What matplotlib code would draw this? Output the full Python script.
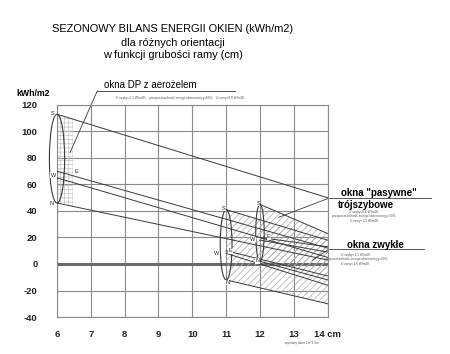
"""Sezonowy bilans energii okien - odtworzenie wykresu."""

import matplotlib
matplotlib.use("Agg")
import matplotlib.pyplot as plt
from matplotlib.patches import Ellipse

plt.rcParams.update({
    "font.family": ["Liberation Sans", "DejaVu Sans"],
    "hatch.linewidth": 0.5,
    "axes.unicode_minus": False,
})

# dane (kWh/m2) - wartosci
x_ticks = [6, 7, 8, 9, 10, 11, 12, 13, 14]
x_tick_labels = ["6", "7", "8", "9", "10", "11", "12", "13", "14 cm"]
y_ticks = [-40, -20, 0, 20, 40, 60, 80, 100, 120]

# okna DP z aerozelem: od 6 cm do 14 cm
dp_x = [6, 14]
dp_S = [113, 50]
dp_E = [70, 12]
dp_W = [65, 5]
dp_N = [46, 3]

# okna pasywne trojszybowe: od 12 cm
pas_x = [12, 14]
pas_S = [45, 23]
pas_E = [20, 13]
pas_W = [18, 9]
pas_N = [2, -12]

# okna zwykle: od 11 cm
zw_x = [11, 14]
zw_S = [41, 18]
zw_E = [10, -9]
zw_W = [8, -16]
zw_N = [-12, -30]

_LINE = "#3a3a3a"
_GRID = "#8a8a8a"
_HATCH = "#ababab"

fig = plt.figure(figsize=(4.5, 3.54), dpi=100)
fig.patch.set_facecolor("white")
ax = fig.add_axes([0.1267, 0.1045, 0.6013, 0.599])

ax.set_xlim(6, 14)
ax.set_ylim(-40, 120)
ax.set_xticks(x_ticks)
ax.set_xticklabels(x_tick_labels)
ax.set_yticks(y_ticks)
ax.tick_params(length=0, labelsize=6.8, colors="#222222")
ax.tick_params(axis="y", pad=14)
ax.tick_params(axis="x", pad=9)
for lab in ax.get_xticklabels() + ax.get_yticklabels():
    lab.set_fontweight("bold")
for sp in ax.spines.values():
    sp.set_color(_GRID)
    sp.set_linewidth(0.8)
ax.grid(True, color=_GRID, linewidth=0.8)
ax.set_axisbelow(True)

# gruba linia zera
ax.axhline(0, color="#6a6a6a", linewidth=2.2, zorder=2)


def interp(xs, ys, xv):
    return ys[0] + (ys[1] - ys[0]) * (xv - xs[0]) / (xs[1] - xs[0])


# obszary kreskowane
dp_xf = [6, 6.47]
ax.fill_between(dp_xf, [interp(dp_x, dp_N, v) for v in dp_xf],
                [interp(dp_x, dp_S, v) for v in dp_xf],
                facecolor="none", edgecolor="#c4c4c4", hatch="++++",
                linewidth=0, zorder=2)
ax.fill_between(zw_x, zw_N, zw_S, facecolor="none", edgecolor=_HATCH,
                hatch="/////", linewidth=0, zorder=2)
ax.fill_between(pas_x, pas_N, pas_S, facecolor="none", edgecolor=_HATCH,
                hatch="/////", linewidth=0, zorder=2)

# linie bilansu
for xs, series in ((dp_x, (dp_S, dp_E, dp_W, dp_N)),
                   (pas_x, (pas_S, pas_E, pas_W, pas_N)),
                   (zw_x, (zw_S, zw_E, zw_W, zw_N))):
    for ys in series:
        ax.plot(xs, ys, color=_LINE, linewidth=0.7, zorder=3)

# elipsy grupujace
for xs, top, bot, w in ((dp_x, dp_S, dp_N, 0.45),
                        (zw_x, zw_S, zw_N, 0.35),
                        (pas_x, pas_S, pas_N, 0.25)):
    ax.add_patch(Ellipse((xs[0], (top[0] + bot[0]) / 2), w, top[0] - bot[0],
                         facecolor="none", edgecolor=_LINE, linewidth=0.8,
                         zorder=4, clip_on=False))

# oznaczenia stron swiata
marks = [
    (5.87, 113.5, "S"), (5.89, 67, "W"), (6.58, 70, "E"), (5.84, 46, "N"),
    (10.93, 42, "S"), (10.73, 8, "W"), (11.13, 10, "E"), (11.03, -14, "N"),
    (11.95, 46, "S"), (11.79, 18.6, "W"), (12.26, 20.5, "E"), (11.93, 2.3, "N"),
]
for mx, my, mt in marks:
    ax.text(mx, my, mt, fontsize=4, ha="center", va="center", zorder=5,
            color="#222222", clip_on=False,
            bbox=dict(boxstyle="square,pad=0.05", fc="white", ec="none"))

# tytul
fig.text(0.384, 0.918, "SEZONOWY BILANS ENERGII OKIEN (kWh/m2)",
         ha="center", va="center", fontsize=7.9)
fig.text(0.384, 0.879, "dla różnych orientacji", ha="center", va="center",
         fontsize=7.9)
fig.text(0.384, 0.844, "w funkcji grubości ramy (cm)", ha="center",
         va="center", fontsize=7.9)

ax.text(5.30, 128.8, "kWh/m2", ha="center", va="center", fontsize=6.3,
        fontweight="bold", clip_on=False)

tiny = dict(fontsize=2.3, ha="center", va="center", color="#555555",
            clip_on=False)

# okna DP z aerozelem
ax.text(8.76, 135.3, "okna DP z aerożelem", ha="center", va="center",
        fontsize=7, clip_on=False)
ax.plot([7.19, 11.27], [130.6, 130.6], color=_LINE, linewidth=0.6,
        clip_on=False)
ax.plot([7.19, 6.39], [130.6, 84.3], color=_LINE, linewidth=0.6, clip_on=False)
ax.text(9.64, 125.2, "U szyby=1,1 W/m2K,   przepuszczalność energii "
        "słonecznej g=60%,   U ramy=0,8 W/m2K", **tiny)

# okna pasywne
ax.text(15.51, 53.6, 'okna "pasywne"', ha="center", va="center",
        fontsize=7, fontweight="bold", clip_on=False)
ax.plot([14.03, 17.05], [49.6, 49.6], color=_LINE, linewidth=0.6,
        clip_on=False)
ax.plot([14.03, 12.55], [49.6, 35.2], color=_LINE, linewidth=0.6,
        clip_on=False)
ax.text(15.13, 44.3, "trójszybowe", ha="center", va="center", fontsize=7,
        fontweight="bold", clip_on=False)
ax.text(15.07, 39.0, "U szyby=0,6 W/m2K", **tiny)
ax.text(15.07, 36.0, "przepuszczalność energii słonecznej g=50%", **tiny)
ax.text(15.07, 32.4, "U ramy=1,1 W/m2K", **tiny)

# okna zwykle
ax.text(15.4, 14.3, "okna zwykłe", ha="center", va="center", fontsize=7,
        fontweight="bold", clip_on=False)
ax.plot([14.03, 16.84], [11.1, 11.1], color=_LINE, linewidth=0.6,
        clip_on=False)
ax.plot([14.03, 13.55], [11.1, 2.8], color=_LINE, linewidth=0.6,
        clip_on=False)
ax.text(14.83, 6.6, "U szyby=1,1 W/m2K", **tiny)
ax.text(14.83, 3.5, "przepuszczalność energii słonecznej g=60%", **tiny)
ax.text(14.83, -0.2, "U ramy=1,6 W/m2K", **tiny)

ax.text(13.23, -59.8, "wymiary okna 1m*1,5m", **tiny)

fig.savefig("out.png", dpi=100, facecolor="white")
plt.close(fig)
